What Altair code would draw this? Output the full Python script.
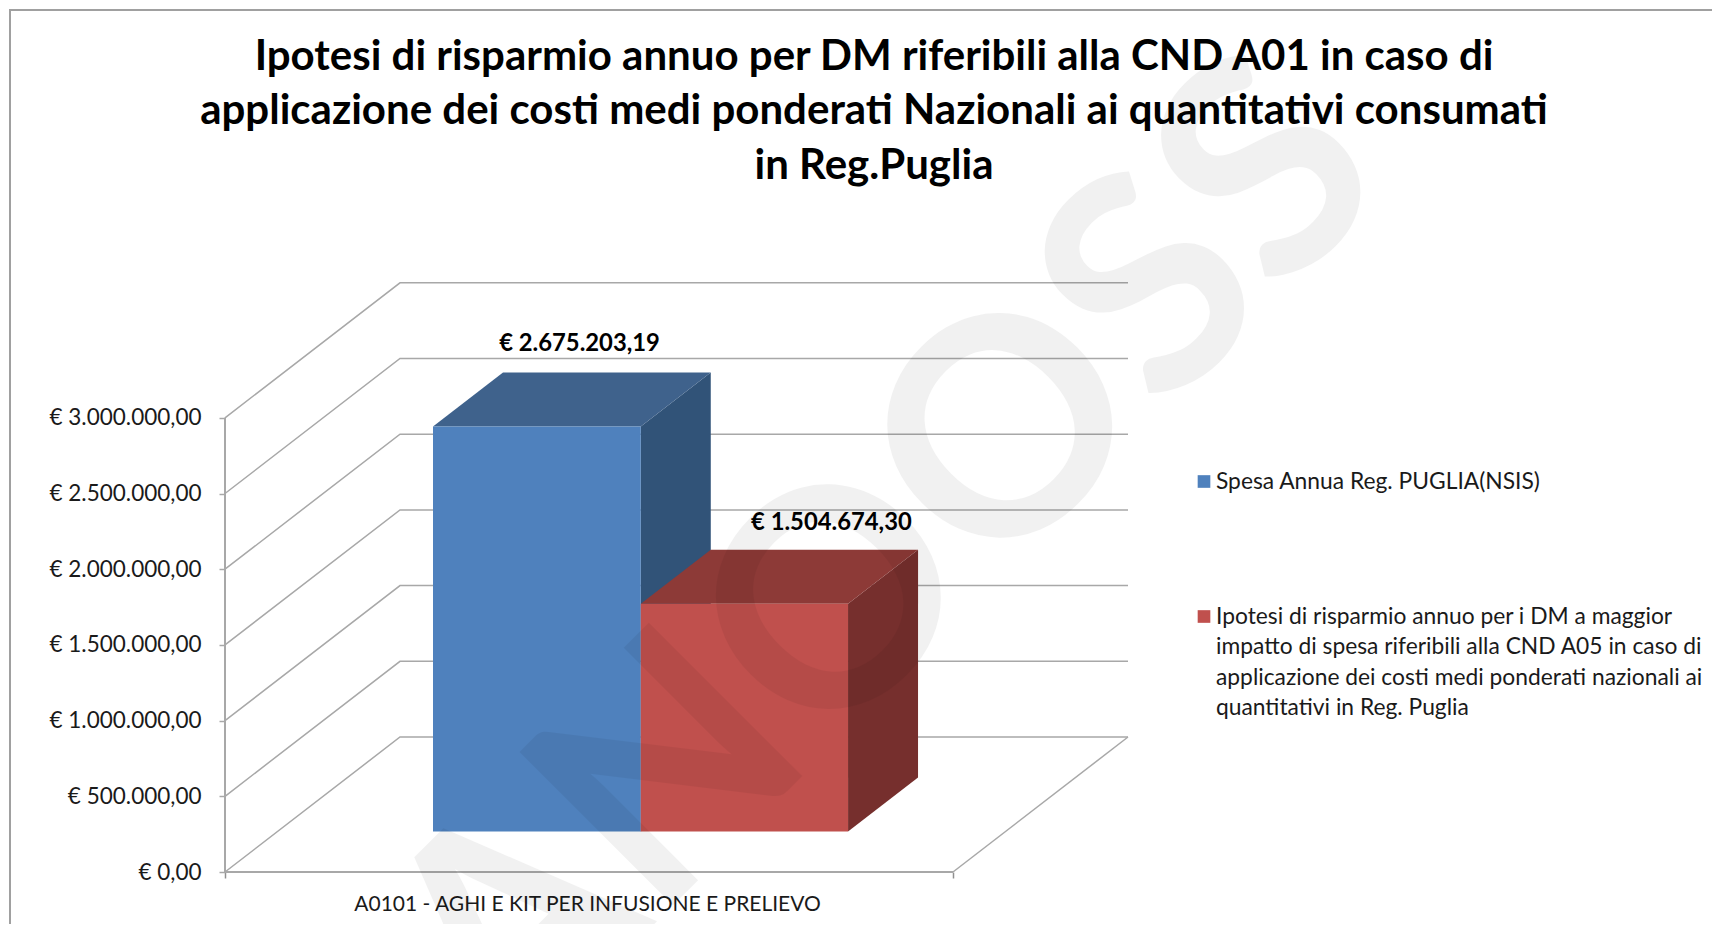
import altair as alt
import pandas as pd

# ---- values ----
series = [
    "Spesa Annua Reg. PUGLIA(NSIS)",
    "Ipotesi di risparmio annuo per i DM a maggior\nimpatto di spesa riferibili alla CND A05 in caso di\napplicazione dei costi medi ponderati nazionali  ai\nquantitativi in Reg. Puglia",
]
values = [2675203.19, 1504674.30]
category = "A0101 - AGHI E KIT PER INFUSIONE  E PRELIEVO"
y_ticks = [0, 500000, 1000000, 1500000, 2000000, 2500000, 3000000]
title_text = (
    "Ipotesi di risparmio annuo per DM riferibili alla CND A01 in  caso di\n"
    "applicazione dei costi medi ponderati Nazionali ai quantitativi consumati\n"
    "in Reg.Puglia"
)
front_colors = ["#4F81BD", "#C0504D"]
top_colors = ["#3F628C", "#8D3A37"]
side_colors = ["#315378", "#762F2D"]
grid_color = "#A8A8A8"
text_color = "#1a1a1a"
font = "Lato"

# ---- oblique projection of the 3-D box ----
W, H = 1704, 916
unit_px = 728.0                # px of one category width
px_per_euro = 75.7 / 500000.0
depth_dx = 175.0 / unit_px     # full depth, in category widths
depth_dy = 135.0 / px_per_euro # full depth, in euro
ax_left, ax_bottom = 225 - 8, 872 - 8
x_dom = [-ax_left / unit_px, (W - ax_left) / unit_px]
y_dom = [-(H - ax_bottom) / px_per_euro, ax_bottom / px_per_euro]
d0, d1 = 0.30, 0.70
edges = [0.2136, 0.499, 0.7837]


def px(u, d):
    return u + d * depth_dx


def py(v, d):
    return v + d * depth_dy


X = alt.Scale(domain=x_dom, nice=False, zero=False)
Y = alt.Scale(domain=y_dom, nice=False, zero=False)
xn = alt.X("x:Q", scale=X, axis=None, title=None)
yn = alt.Y("y:Q", scale=Y, axis=None, title=None)

# walls and floor
grid_rows = []
for t in y_ticks:
    grid_rows += [
        dict(x=px(0, 0), y=py(t, 0), g=t, o=0),
        dict(x=px(0, 1), y=py(t, 1), g=t, o=1),
        dict(x=px(1, 1), y=py(t, 1), g=t, o=2),
    ]
grid_rows += [
    dict(x=px(1, 0), y=py(0, 0), g=-1, o=0),
    dict(x=px(1, 1), y=py(0, 1), g=-1, o=1),
]
grid = alt.Chart(pd.DataFrame(grid_rows)).mark_line(color=grid_color, strokeWidth=1.5).encode(
    x=alt.X("x:Q", scale=X, title=None, axis=alt.Axis(
        values=[0, 1], labels=False, domain=False, grid=False, tickSize=6, tickWidth=1.5,
        tickColor="#909090", offset=-(H - ax_bottom))),
    y=alt.Y("y:Q", scale=Y, title=None, axis=alt.Axis(
        values=y_ticks, domain=False, grid=False, tickSize=6, tickWidth=1.5, tickColor=grid_color,
        labelFont=font, labelFontSize=22.5, labelColor=text_color, labelPadding=18, labelLimit=0,
        offset=-ax_left,
        labelExpr="'€ ' + replace(replace(replace(format(datum.value, ',.2f'), regexp(',', 'g'), ';'), regexp('[.]', 'g'), ','), regexp(';', 'g'), '.')")),
    detail="g:N",
    order="o:Q",
)

# front axis lines
axes_df = pd.DataFrame([
    dict(x=0, y=0, g=0, o=0), dict(x=1, y=0, g=0, o=1),
    dict(x=0, y=0, g=1, o=0), dict(x=0, y=y_ticks[-1], g=1, o=1),
])
axes = alt.Chart(axes_df).mark_line(color=grid_color, strokeWidth=2).encode(x=xn, y=yn, detail="g:N", order="o:Q")

# bar faces
side_rows, top_rows, front_rows, label_rows = [], [], [], []
label_u = [0.487, 0.833]
label_gap = [28, 27]
for i, (s, v) in enumerate(zip(series, values)):
    a, b = edges[i], edges[i + 1]
    for d in (d0, d1):
        side_rows.append(dict(s=i, fill=side_colors[i], x=px(b, d), y=py(0, d), y2=py(v, d)))
        top_rows.append(dict(s=i, fill=top_colors[i], x=px(a, d), x2=px(b, d), y=py(v, d)))
    front_rows.append(dict(s=i, fill=front_colors[i], x=px(a, d0), x2=px(b, d0), y=py(0, d0), y2=py(v, d0)))
    txt = f"€ {v:,.2f}".replace(",", ";").replace(".", ",").replace(";", ".")
    label_rows.append(dict(x=label_u[i], y=py(v, d1) + label_gap[i] / px_per_euro, t=txt))

fill = alt.Color("fill:N", scale=None, legend=None)
side = alt.Chart(pd.DataFrame(side_rows)).mark_area(opacity=1).encode(x=xn, y=yn, y2="y2:Q", color=fill)
top = alt.Chart(pd.DataFrame(top_rows)).mark_area(orient="horizontal", opacity=1).encode(x=xn, x2="x2:Q", y=yn, color=fill)
front = alt.Chart(pd.DataFrame(front_rows)).mark_rect().encode(x=xn, x2="x2:Q", y=yn, y2="y2:Q", color=fill)

bar_labels = alt.Chart(pd.DataFrame(label_rows)).mark_text(
    font=font, fontWeight="bold", fontSize=23.8, color="#000000").encode(x=xn, y=yn, text="t:N")

cat_label = alt.Chart(pd.DataFrame([dict(x=0.498, y=-33 / px_per_euro, t=category)])).mark_text(
    font=font, fontSize=21, color=text_color).encode(x=xn, y=yn, text="t:N")

# title
title = alt.Chart(pd.DataFrame([dict(t=title_text)])).mark_text(
    font=font, fontWeight="bold", fontSize=42, color="#000000", align="center", baseline="middle",
    lineBreak="\n", lineHeight=54.5).encode(x=alt.value(866), y=alt.value(48.5), text="t:N")

# legend
legend_layers = []
legend_y = [481.5 - 8, 616.5 - 8]
for i, s in enumerate(series):
    d = pd.DataFrame([dict(t=s)])
    legend_layers.append(alt.Chart(d).mark_square(size=160, color=front_colors[i], opacity=1).encode(
        x=alt.value(1204 - 8), y=alt.value(legend_y[i])))
    legend_layers.append(alt.Chart(d).mark_text(
        font=font, fontSize=22.8, color=text_color, align="left", baseline="top",
        lineBreak="\n", lineHeight=30.3).encode(
        x=alt.value(1216 - 8), y=alt.value(legend_y[i] - 10.5), text="t:N"))

# frame
frame_l = alt.Chart(pd.DataFrame([{"a": 0}])).mark_rule(color="#A0A0A0", strokeWidth=2).encode(
    x=alt.value(2), y=alt.value(2), y2=alt.value(H))
frame_t = alt.Chart(pd.DataFrame([{"a": 0}])).mark_rule(color="#A0A0A0", strokeWidth=2).encode(
    x=alt.value(1), x2=alt.value(W), y=alt.value(2))

# watermark
wm = alt.Chart(pd.DataFrame([{"t": "ANOOSS"}])).mark_text(
    font="Lato", fontSize=300, fontWeight="bold", angle=315, color="#000000", opacity=0.05,
    align="center", baseline="middle"
).encode(x=alt.value(880), y=alt.value(555), text="t:N")

chart = alt.layer(
    frame_l, frame_t, grid, axes, side, top, front, bar_labels, cat_label, title, *legend_layers, wm
).properties(
    width=W, height=H, padding=0, autosize=alt.AutoSizeParams(type="none"),
).resolve_axis(x="independent", y="independent").configure_view(stroke=None)

chart.save("out.html", embed_options={"renderer": "svg", "actions": False})
